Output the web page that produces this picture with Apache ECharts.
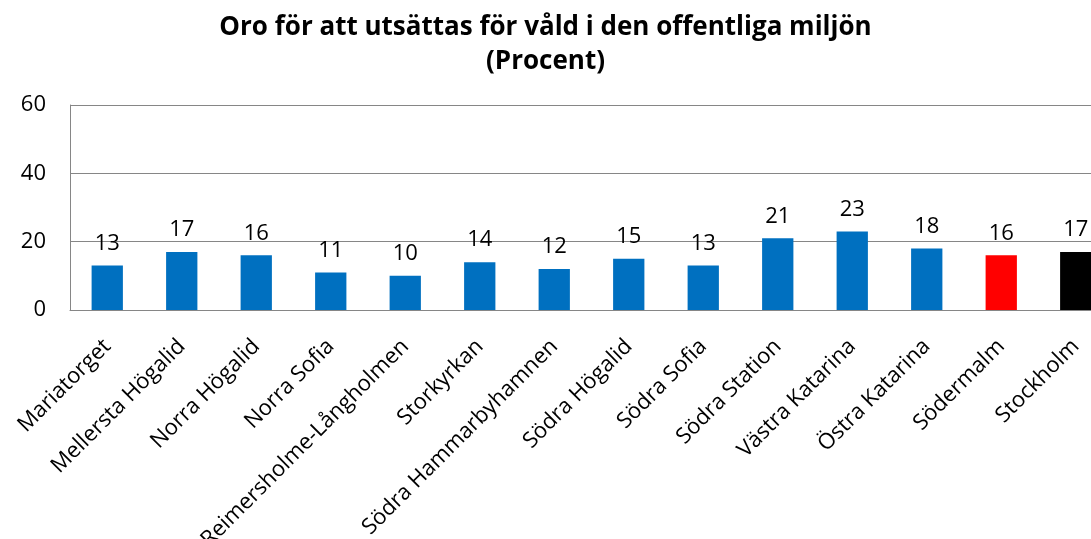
<!DOCTYPE html>
<html>
<head>
<meta charset="utf-8">
<script src="https://cdn.jsdelivr.net/npm/echarts@6/dist/echarts.min.js"></script>
<style>
  html, body { margin: 0; padding: 0; background: #fff; }
  #chart { width: 1091px; height: 539px; }
</style>
</head>
<body>
<div id="chart"></div>
<script>
// omraden och andel (procent)
const areas = ["Mariatorget", "Mellersta Högalid", "Norra Högalid", "Norra Sofia",
  "Reimersholme-Långholmen", "Storkyrkan", "Södra Hammarbyhamnen", "Södra Högalid",
  "Södra Sofia", "Södra Station", "Västra Katarina", "Östra Katarina", "Södermalm", "Stockholm"];
const values = [13, 17, 16, 11, 10, 14, 12, 15, 13, 21, 23, 18, 16, 17];
const barColors = ["#0070C0", "#0070C0", "#0070C0", "#0070C0", "#0070C0", "#0070C0", "#0070C0",
  "#0070C0", "#0070C0", "#0070C0", "#0070C0", "#0070C0", "#FF0000", "#000000"];

const font = "'Open Sans', 'Noto Sans', sans-serif";
const chart = echarts.init(document.getElementById("chart"));
chart.setOption({
  animation: false,
  title: {
    text: "Oro för att utsättas för våld i den offentliga miljön\n(Procent)",
    left: "center",
    top: 6,
    textStyle: { fontFamily: font, fontSize: 26, fontWeight: "bold", color: "#000", lineHeight: 34 }
  },
  // the plot runs past the right edge in the original, so the width is fixed
  grid: { left: 70, width: 1043, top: 105, bottom: 229, outerBoundsMode: "none" },
  xAxis: {
    type: "category",
    data: areas,
    axisLine: { lineStyle: { color: "#868686" } },
    axisTick: { show: false },
    axisLabel: {
      interval: 0, rotate: 45, margin: 33,
      fontFamily: font, fontSize: 22, color: "#000"
    }
  },
  yAxis: {
    type: "value",
    min: 0, max: 60, interval: 20,
    axisLine: { show: true, lineStyle: { color: "#868686" } },
    axisTick: { show: false },
    splitLine: { lineStyle: { color: "#868686" } },
    axisLabel: { fontFamily: font, fontSize: 22, color: "#000", margin: 24 }
  },
  series: [{
    type: "bar",
    barWidth: "42%",
    data: values.map((v, i) => ({ value: v, itemStyle: { color: barColors[i] } })),
    label: {
      show: true, position: "top", distance: 11,
      fontFamily: font, fontSize: 22, color: "#000"
    }
  }]
});
</script>
</body>
</html>
